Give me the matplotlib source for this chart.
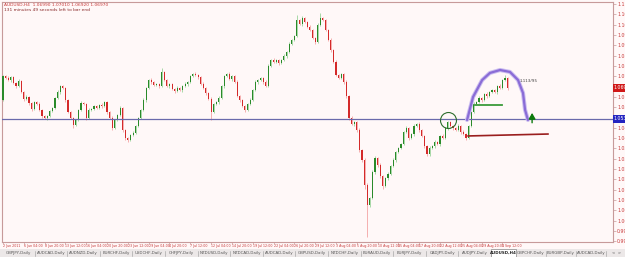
import numpy as np
import matplotlib.pyplot as plt
from matplotlib.patches import Rectangle

# AUDUSD H4 (drawn as 8h candles), closes
first_open = 1.0635
closes = [
    1.0759, 1.0749, 1.0738, 1.0754, 1.0723, 1.0707, 1.0733, 1.0676, 1.0640, 1.0650,
    1.0619, 1.0588, 1.0624, 1.0614, 1.0583, 1.0552, 1.0541, 1.0552, 1.0577, 1.0593,
    1.0645, 1.0676, 1.0707, 1.0697, 1.0635, 1.0572, 1.0541, 1.0505, 1.0531, 1.0583,
    1.0619, 1.0614, 1.0541, 1.0583, 1.0588, 1.0603, 1.0593, 1.0609, 1.0603, 1.0624,
    1.0572, 1.0541, 1.0489, 1.0531, 1.0557, 1.0593, 1.0479, 1.0437, 1.0427, 1.0453,
    1.0463, 1.0500, 1.0541, 1.0583, 1.0635, 1.0697, 1.0738, 1.0728, 1.0712, 1.0718,
    1.0707, 1.0780, 1.0738, 1.0707, 1.0718, 1.0692, 1.0681, 1.0697, 1.0686, 1.0707,
    1.0718, 1.0728, 1.0759, 1.0769, 1.0764, 1.0754, 1.0718, 1.0697, 1.0671, 1.0640,
    1.0572, 1.0614, 1.0624, 1.0645, 1.0707, 1.0759, 1.0769, 1.0743, 1.0759, 1.0728,
    1.0655, 1.0635, 1.0603, 1.0583, 1.0614, 1.0635, 1.0686, 1.0728, 1.0738, 1.0749,
    1.0728, 1.0707, 1.0811, 1.0842, 1.0832, 1.0842, 1.0826, 1.0842, 1.0863, 1.0883,
    1.0925, 1.0946, 1.0967, 1.1049, 1.1029, 1.1060, 1.1039, 1.1013, 1.0998, 1.0956,
    1.0935, 1.1024, 1.1060, 1.1049, 1.0998, 1.0946, 1.0894, 1.0832, 1.0764, 1.0749,
    1.0769, 1.0728, 1.0655, 1.0541, 1.0510, 1.0520, 1.0479, 1.0375, 1.0323, 1.0194,
    1.0090, 1.0126, 1.0261, 1.0334, 1.0297, 1.0240, 1.0188, 1.0230, 1.0251, 1.0292,
    1.0323, 1.0365, 1.0386, 1.0406, 1.0469, 1.0489, 1.0437, 1.0458, 1.0500, 1.0510,
    1.0479, 1.0448, 1.0396, 1.0354, 1.0386, 1.0396, 1.0417, 1.0406, 1.0448, 1.0437,
    1.0489, 1.0520, 1.0500, 1.0489, 1.0479, 1.0500, 1.0469, 1.0458, 1.0437, 1.0500,
    1.0572, 1.0614, 1.0624, 1.0645, 1.0635, 1.0666, 1.0655, 1.0676, 1.0686, 1.0676,
    1.0707, 1.0697, 1.0738, 1.0749, 1.0697,
]
# wick lengths above/below the body, in pips
hi_wick = [
    6, 5, 8, 4, 7, 5, 9, 6, 4, 8, 5, 7, 6, 4, 9,
    5, 7, 6, 8, 5, 6, 9, 4, 7, 5, 6, 8, 5, 7, 6,
    9, 5, 6, 8, 4, 7, 6, 5, 8, 6, 7, 4, 9, 5, 6,
    8, 5, 7, 6, 4, 9, 6, 5, 7, 8, 5, 6, 9, 4, 7,
    5, 21, 6, 8, 5, 7, 4, 9, 6, 5, 8, 6, 7, 5, 9,
    6, 4, 8, 5, 7, 9, 6, 5, 8, 4, 7, 6, 9, 5, 6,
    8, 5, 7, 4, 6, 9, 5, 8, 6, 7, 5, 9, 10, 6, 8,
    5, 7, 6, 9, 4, 8, 6, 5, 26, 7, 9, 6, 5, 8, 7,
    6, 9, 26, 5, 7, 6, 8, 5, 9, 7, 6, 4, 8, 6, 9,
    7, 5, 8, 6, 9, 10, 7, 12, 8, 6, 9, 5, 7, 8, 6,
    9, 5, 7, 8, 6, 10, 5, 7, 9, 6, 8, 5, 7, 6, 9,
    5, 8, 6, 7, 9, 5, 8, 6, 7, 5, 9, 6, 8, 5, 7,
    6, 9, 5, 8, 7, 6, 9, 5, 8, 6, 7, 9, 6, 15, 5,
]
lo_wick = [
    5, 7, 6, 9, 5, 8, 6, 7, 10, 5, 8, 9, 6, 7, 5,
    9, 6, 8, 5, 7, 6, 5, 8, 6, 9, 7, 5, 16, 6, 8,
    5, 7, 9, 6, 8, 5, 7, 6, 9, 5, 8, 7, 10, 6, 5,
    7, 9, 12, 8, 6, 7, 5, 8, 6, 7, 9, 5, 8, 6, 7,
    9, 5, 7, 6, 8, 5, 9, 6, 7, 8, 5, 9, 6, 7, 5,
    8, 6, 7, 9, 5, 41, 7, 6, 8, 5, 9, 7, 6, 8, 5,
    7, 9, 6, 12, 8, 5, 7, 6, 8, 5, 9, 6, 7, 5, 8,
    6, 8, 5, 7, 9, 6, 5, 8, 7, 6, 9, 5, 7, 8, 6,
    9, 5, 7, 6, 8, 5, 9, 7, 6, 8, 5, 9, 10, 8, 6,
    9, 12, 8, 10, 20, 166, 9, 6, 10, 8, 9, 15, 7, 8, 6,
    7, 9, 5, 8, 6, 7, 9, 5, 8, 6, 9, 7, 10, 12, 8,
    6, 9, 5, 8, 7, 6, 9, 5, 8, 6, 7, 9, 6, 10, 5,
    8, 6, 7, 5, 9, 6, 8, 5, 7, 6, 8, 5, 7, 6, 9,
]

price_ticks = [1.11325, 1.10790, 1.10255, 1.09720, 1.09185, 1.08650, 1.08115, 1.07580,
               1.07045, 1.06510, 1.05975, 1.05440, 1.04905, 1.04370, 1.03835, 1.03300,
               1.02765, 1.02230, 1.01695, 1.01160, 1.00625, 1.00090, 0.99555, 0.99020]
time_labels = ["2 Jun 2011", "6 Jun 04:00", "8 Jun 20:00", "13 Jun 12:00", "16 Jun 04:00",
               "20 Jun 20:00", "23 Jun 12:00", "29 Jun 04:00", "4 Jul 20:00", "7 Jul 12:00",
               "12 Jul 04:00", "14 Jul 20:00", "19 Jul 12:00", "22 Jul 04:00", "26 Jul 20:00",
               "29 Jul 12:00", "3 Aug 04:00", "5 Aug 20:00", "10 Aug 12:00", "15 Aug 04:00",
               "17 Aug 20:00", "22 Aug 12:00", "25 Aug 04:00", "29 Aug 20:00", "1 Sep 12:00"]
level = 1.05360
tabs = ["GBPJPY,Daily", "AUDCAD,Daily", "AUDNZD,Daily", "EURCHF,Daily", "USDCHF,Daily",
        "CHFJPY,Daily", "NZDUSD,Daily", "NZDCAD,Daily", "AUDCAD,Daily", "GBPUSD,Daily",
        "NZDCHF,Daily", "EURAUD,Daily", "EURJPY,Daily", "CADJPY,Daily", "AUDJPY,Daily",
        "AUDUSD,H4", "GBPCHF,Daily", "EURGBP,Daily", "AUDCAD,Daily"]

closes = np.array(closes)
opens = np.concatenate([[first_open], closes[:-1]])
highs = np.maximum(opens, closes) + np.array(hi_wick) * 0.0001
lows = np.minimum(opens, closes) - np.array(lo_wick) * 0.0001
idx = np.arange(len(closes))
up = closes >= opens

bg = '#fff8f8'
frame = '#c79a9a'
txt_red = '#c83a3a'
narrow = ['Liberation Sans Narrow', 'DejaVu Sans']

fig = plt.figure(figsize=(6.25, 2.57), dpi=100, facecolor=bg)
ax = fig.add_axes([2/625, 1 - 242/257, 611/625, 240/257])
ax.set_facecolor(bg)

# candles
ax.vlines(idx[up], lows[up], highs[up], color='#9ad49a', lw=0.6, zorder=2)
ax.vlines(idx[~up], lows[~up], highs[~up], color='#f4a4a4', lw=0.6, zorder=2)
ax.bar(idx[up], closes[up] - opens[up], bottom=opens[up], width=0.42,
       color='#2a8a2a', linewidth=0, zorder=3)
ax.bar(idx[~up], closes[~up] - opens[~up], bottom=opens[~up], width=0.42,
       color='#d42a2a', linewidth=0, zorder=3)

# horizontal level
ax.axhline(level, color='#6a6aac', lw=0.9, zorder=4)

# hand drawn objects
arc_x = [178.4, 180.7, 184.2, 187.2, 191.1, 194.9, 198.0, 199.9, 200.7, 201.8]
arc_y = [1.0531, 1.0650, 1.0738, 1.0775, 1.0790, 1.0780, 1.0738, 1.0671, 1.0583, 1.0531]
ax.plot(arc_x, arc_y, color='#cbbdf0', lw=3.0, solid_capstyle='round', zorder=5)
ax.plot(arc_x, arc_y, color='#8a6cd6', lw=1.6, solid_capstyle='round', zorder=6)
ax.plot([181.5, 192.0], [1.0609, 1.0609], color='#3a9a3a', lw=1.3, zorder=5)
ax.plot([178.8, 209.5], [1.0448, 1.0458], color='#9a1e1e', lw=1.2, zorder=5)
ax.plot([171.1], [1.0531], marker='o', ms=11.5, mfc='none', mec='#2e6e2e', mew=0.8, zorder=6)
ax.annotate('', xy=(203.4, 1.0582), xytext=(203.4, 1.0502),
            arrowprops=dict(arrowstyle='-|>,head_width=0.2,head_length=0.35',
                            color='#0d7a0d', lw=1.0), zorder=6)
ax.text(198.5, 1.0728, '1.113/95', fontsize=3.0, color='#444444', zorder=6, family=narrow)

ax.set_xlim(-0.38, 234.5)
ax.set_ylim(0.98980, 1.11428)
for s in ax.spines.values():
    s.set_color(frame)
    s.set_linewidth(0.8)

# labels hidden under the price boxes are left blank
ylabels = [f'{v:.5f}' for v in price_ticks]
ylabels[8] = ''
ylabels[11] = ''
ax.yaxis.tick_right()
ax.set_yticks(price_ticks)
ax.set_yticklabels(ylabels, family=narrow)
ax.tick_params(axis='y', length=2, width=0.5, color=frame, labelsize=3.4,
               labelcolor=txt_red, pad=1)
ax.set_xticks([0] + [8 * k for k in range(1, len(time_labels))])
ax.set_xticklabels(time_labels, ha='left', family=narrow)
ax.tick_params(axis='x', length=1.2, width=0.5, color=frame, labelsize=2.3,
               labelcolor=txt_red, pad=0.4)

# price boxes on the axis
for val, col in [(closes[-1], '#d01818'), (level, '#2424c0')]:
    ax.text(1.0015, val, f'{val:.5f}', transform=ax.get_yaxis_transform(),
            fontsize=3.4, color='white', va='center', ha='left', zorder=10, clip_on=False,
            family=narrow, bbox=dict(boxstyle='square,pad=0.25', fc=col, ec='none'))

# chart title
fig.text(4/625, 1 - 5/257, 'AUDUSD,H4  1.06990 1.07010 1.06920 1.06970',
         fontsize=3.2, color=txt_red, va='center', family=narrow)
fig.text(4/625, 1 - 10/257, '131 minutes 49 seconds left to bar end',
         fontsize=3.2, color='#8a2a2a', va='center', family=narrow)

# tab strip
tax = fig.add_axes([0, 0, 1, 8/257])
tax.set_xlim(0, 625)
tax.set_ylim(0, 8)
tax.axis('off')
tax.add_patch(Rectangle((0, 0), 625, 8, fc='#ece8e8', ec='none'))
x = 2
for name in tabs:
    w = 25 if name.endswith('H4') else (32.6 if x < 490 else 30)
    if name.endswith('H4'):
        tax.add_patch(Rectangle((x, 0.3), w, 7.7, fc='white', ec='#888888', lw=0.5))
        tax.text(x + w / 2, 4.0, name, fontsize=2.9, ha='center', va='center',
                 color='#222222', weight='bold', family=narrow)
    else:
        tax.text(x + w / 2, 4.0, name, fontsize=2.9, ha='center', va='center',
                 color='#555555', family=narrow)
        tax.plot([x + w, x + w], [1.5, 6.5], color='#999999', lw=0.4)
    x += w
tax.text(612, 4.0, '<  >', fontsize=2.9, ha='left', va='center', color='#555555')

fig.savefig('out.png', dpi=100, facecolor=bg)
